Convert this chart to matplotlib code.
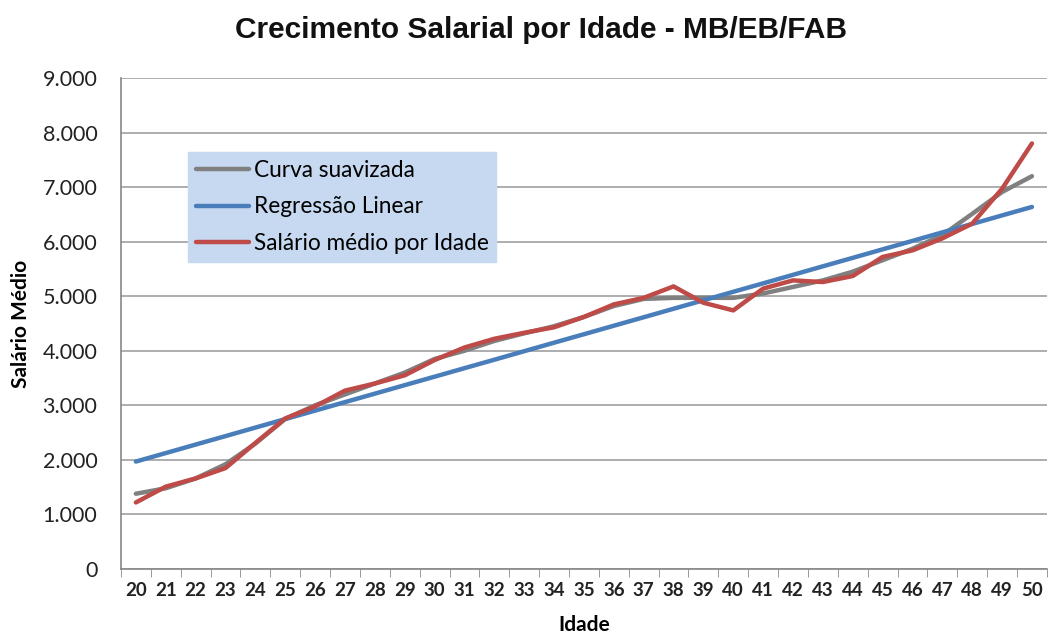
import matplotlib
matplotlib.use("Agg")
import matplotlib.pyplot as plt
from matplotlib.ticker import FixedLocator, FuncFormatter

ages = list(range(20, 51))
salario_medio = [1220, 1510, 1660, 1850, 2310, 2760, 2980, 3270, 3400, 3550, 3830,
                 4060, 4220, 4330, 4430, 4620, 4850, 4970, 5180, 4880, 4740,
                 5140, 5290, 5260, 5370, 5720, 5840, 6060, 6330, 6970, 7800]
curva_suavizada = [1380, 1480, 1660, 1920, 2300, 2750, 3000, 3200, 3400, 3600, 3850,
                   4000, 4180, 4320, 4450, 4620, 4820, 4950, 4970, 4970, 4970,
                   5050, 5170, 5290, 5450, 5660, 5870, 6120, 6510, 6910, 7200]
regressao_linear = [1970, 2125, 2281, 2436, 2592, 2748, 2903, 3059, 3214, 3370, 3525,
                    3681, 3836, 3992, 4148, 4303, 4459, 4614, 4770, 4925, 5081,
                    5236, 5392, 5548, 5703, 5859, 6014, 6170, 6325, 6481, 6636]
y_ticks = [0, 1000, 2000, 3000, 4000, 5000, 6000, 7000, 8000, 9000]

title = "Crecimento Salarial por Idade - MB/EB/FAB"
xlabel = "Idade"
ylabel = "Salário Médio"
labels = ["Curva suavizada", "Regressão Linear", "Salário médio por Idade"]

fig = plt.figure(figsize=(10.49, 6.39), dpi=100)
ax = fig.add_axes([0.1153, 0.1095, 0.8827, 0.7685])

x = list(range(len(ages)))
lw = 3.2
ax.plot(x, curva_suavizada, color="#808080", lw=lw, label=labels[0], solid_capstyle="round", zorder=3)
ax.plot(x, regressao_linear, color="#4A7EBB", lw=lw, label=labels[1], solid_capstyle="round", zorder=4)
ax.plot(x, salario_medio, color="#BE4B48", lw=lw, label=labels[2], solid_capstyle="round", zorder=5)

ax.set_xlim(-0.5, len(ages) - 0.5)
ax.set_ylim(0, 9000)
ax.set_yticks(y_ticks)
ax.yaxis.set_major_formatter(FuncFormatter(lambda v, p: f"{int(v):,}".replace(",", ".")))
ax.grid(axis="y", color="#A0A0A0", lw=1.2)
ax.set_axisbelow(True)

ax.set_xticks(x)
ax.set_xticklabels([str(a) for a in ages], fontfamily="Lato", fontsize=13.5, fontweight="bold", color="#222222")
ax.xaxis.set_minor_locator(FixedLocator([i - 0.5 for i in range(len(ages) + 1)]))
ax.tick_params(axis="x", which="major", length=0, pad=9)
ax.tick_params(axis="x", which="minor", length=6, color="#888888")
ax.tick_params(axis="y", length=0, pad=17, labelsize=15.5, labelcolor="#222222")
for lab in ax.get_yticklabels():
    lab.set_fontfamily("Lato")

for s in ["top", "right"]:
    ax.spines[s].set_visible(False)
for s in ["left", "bottom"]:
    ax.spines[s].set_color("#888888")
    ax.spines[s].set_linewidth(1.2)

fig.text(0.516, 0.953, title, ha="center", va="center", fontsize=21.5, fontfamily="Liberation Sans", fontweight="bold", color="#111111")
ax.set_xlabel(xlabel, fontsize=15, fontweight="bold", fontfamily="Lato", labelpad=12)
ax.set_ylabel(ylabel, fontsize=15, fontweight="bold", fontfamily="Lato", labelpad=8)

leg = ax.legend(loc="upper left", bbox_to_anchor=(0.0724, 0.849), frameon=True, fancybox=False,
                prop={"family": "Lato", "size": 16.3}, handlelength=2.35, handletextpad=0.2,
                borderpad=0.35, labelspacing=0.68, borderaxespad=0)
leg.get_frame().set_facecolor("#C6D9F0")
leg.get_frame().set_edgecolor("#C6D9F0")
leg.get_frame().set_alpha(1)

fig.savefig("out.png", dpi=100)
